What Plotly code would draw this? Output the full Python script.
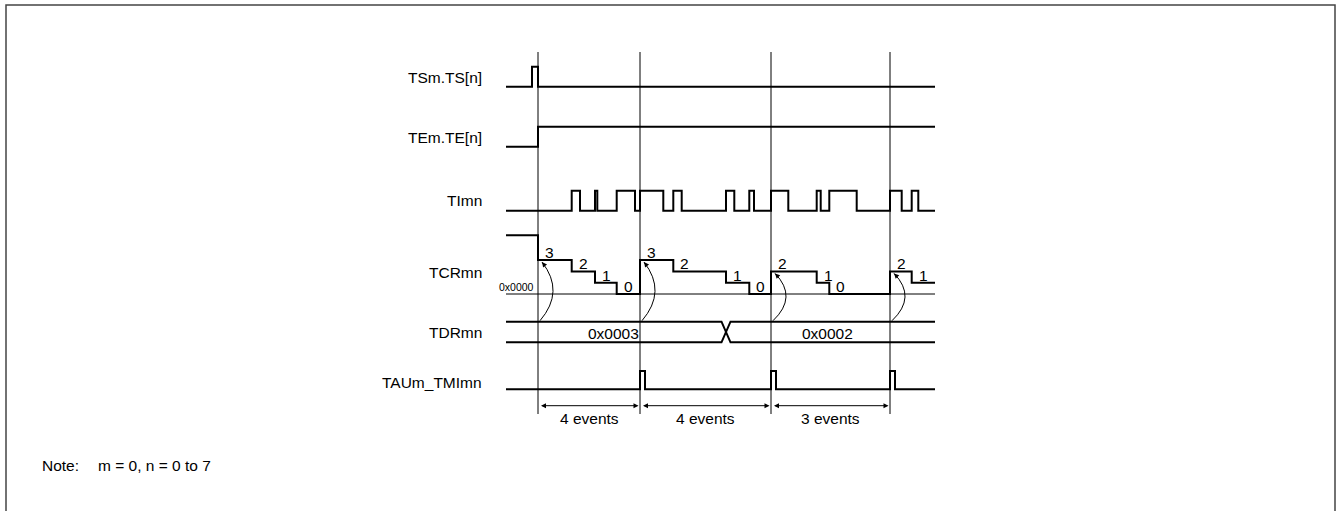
import plotly.graph_objects as go

# ---------------- data (time axis in diagram units) ----------------
T_START, T_END = 506, 935
signal_names = ["TSm.TS[n]", "TEm.TE[n]", "TImn", "TCRmn", "TDRmn", "TAUm_TMImn"]
ts_pulse = [532, 538]
te_rise = 538
ti_rise = [571.7, 595, 616.7, 640, 673.3, 726, 749.3, 771, 816.7, 829.3, 890, 911.7]
ti_fall = [580, 597.3, 635, 663.3, 681.7, 734.3, 754, 788.3, 820.7, 856.7, 901.7, 918.3]
tcr_times = [506, 538, 571.7, 595, 616.7, 640, 673.3, 726, 749.3, 771, 816.7, 829.3, 890, 911.7]
tcr_values = [5.2, 3, 2, 1, 0, 3, 2, 1, 0, 2, 1, 0, 2, 1]
tcr_labels = ["", "3", "2", "1", "0", "3", "2", "1", "0", "2", "1", "0", "2", "1"]
reload_times = [538, 640, 771, 890]
tdr_change = 726
tdr_values = ["0x0003", "0x0002"]
tmi_pulses = [640, 771, 890]
event_counts = ["4 events", "4 events", "3 events"]
note_label = "Note:"
note_text = "m = 0, n = 0 to 7"

# ---------------- layout constants ----------------
FONT = "Liberation Sans"
FS = 15.5
LW = 2
row_low = [86.7, 146.7, 210.7, 294, 342.3, 389.3]
row_label_y = [77, 137, 200, 272, 332, 382]
AMP = 20
TAU_AMP = 18.3
CNT_STEP = 11.3
BUS_H = 20.6
X_HALF = 4.5
DIM_Y = 405.7

fig = go.Figure()

def add_line(x, y, width=LW, shape="linear", color="black"):
    fig.add_trace(go.Scatter(x=x, y=y, mode="lines", line=dict(color=color, width=width, shape=shape),
                             hoverinfo="skip", showlegend=False))

# TS pulse
lo, hi = row_low[0], row_low[0] - AMP
add_line([T_START, ts_pulse[0], ts_pulse[1], T_END], [lo, hi, lo, lo], shape="hv")
# TE rise
lo, hi = row_low[1], row_low[1] - AMP
add_line([T_START, te_rise, T_END], [lo, hi, hi], shape="hv")
# TI waveform
lo, hi = row_low[2], row_low[2] - AMP
xs, ys = [T_START], [lo]
for r, f in zip(ti_rise, ti_fall):
    xs += [r, f]
    ys += [hi, lo]
xs.append(T_END); ys.append(lo)
add_line(xs, ys, shape="hv")
# TCR counter
zero = row_low[3]
add_line([T_START, T_END], [zero, zero], width=1)
cx = tcr_times + [T_END]
cy = [zero - CNT_STEP * v for v in tcr_values] + [zero - CNT_STEP * tcr_values[-1]]
add_line(cx, cy, shape="hv")
for t, v, lab in zip(tcr_times, tcr_values, tcr_labels):
    if lab:
        fig.add_annotation(x=t + 5, y=zero - CNT_STEP * v - 7.5, text=lab, showarrow=False,
                           xanchor="left", yanchor="middle", font=dict(family=FONT, size=FS, color="black"))
fig.add_annotation(x=536, y=287, text="0x0000", showarrow=False, xanchor="right", yanchor="middle",
                   font=dict(family=FONT, size=10.5, color="black"))
# TDR bus
bot, top = row_low[4], row_low[4] - BUS_H
add_line([T_START, tdr_change - X_HALF, tdr_change + X_HALF, T_END], [top, top, bot, bot])
add_line([T_START, tdr_change - X_HALF, tdr_change + X_HALF, T_END], [bot, bot, top, top])
seg_bounds = [T_START, tdr_change, T_END]
for i, val in enumerate(tdr_values):
    fig.add_annotation(x=(seg_bounds[i] + seg_bounds[i + 1]) / 2 - 3, y=(top + bot) / 2 + 1, text=val,
                       showarrow=False, xanchor="center", yanchor="middle",
                       font=dict(family=FONT, size=FS, color="black"))
# TAU interrupt pulses
lo, hi = row_low[5], row_low[5] - TAU_AMP
xs, ys = [T_START], [lo]
for p in tmi_pulses:
    xs += [p, p + 5]
    ys += [hi, lo]
xs.append(T_END); ys.append(lo)
add_line(xs, ys, shape="hv")

# vertical reference lines
for t in reload_times:
    fig.add_shape(type="line", x0=t, x1=t, y0=52, y1=414, line=dict(color="black", width=1))

# reload arcs TDR -> TCR
for t in reload_times:
    v = tcr_values[tcr_times.index(t)]
    y1 = zero - CNT_STEP * v + 2
    y0 = top - 1
    x0, x1 = t + 2, t + 4
    cxp, cyp = t + 27, (y0 + y1) / 2
    fig.add_shape(type="path", path=f"M {x0},{y0} Q {cxp},{cyp} {x1},{y1}",
                  line=dict(color="black", width=1))
    dx, dy = x1 - cxp, y1 - cyp
    n = (dx * dx + dy * dy) ** 0.5
    fig.add_annotation(x=x1, y=y1, ax=x1 - dx / n * 6, ay=y1 - dy / n * 6, axref="x", ayref="y",
                       xref="x", yref="y", text="", showarrow=True, arrowhead=2, arrowsize=1,
                       arrowwidth=1, arrowcolor="black", standoff=0)

# dimension arrows
for i, lab in enumerate(event_counts):
    a, b = reload_times[i], reload_times[i + 1]
    fig.add_annotation(x=b - 1.5, y=DIM_Y, ax=a + 1.5, ay=DIM_Y, axref="x", ayref="y", xref="x", yref="y",
                       text="", showarrow=True, arrowhead=2, arrowside="end+start", arrowsize=1,
                       arrowwidth=1, arrowcolor="black", standoff=0, startstandoff=0)
    fig.add_annotation(x=(a + b) / 2, y=418, text=lab, showarrow=False, xanchor="center", yanchor="middle",
                       font=dict(family=FONT, size=FS, color="black"))

# signal names
for name, y in zip(signal_names, row_label_y):
    fig.add_annotation(x=484, y=y, text=name, showarrow=False, xanchor="right", yanchor="middle",
                       font=dict(family=FONT, size=FS, color="black"))

# note
fig.add_annotation(x=40, y=465, text=note_label, showarrow=False, xanchor="left", yanchor="middle",
                   font=dict(family=FONT, size=FS, color="black"))
fig.add_annotation(x=96, y=465, text=note_text, showarrow=False, xanchor="left", yanchor="middle",
                   font=dict(family=FONT, size=FS, color="black"))

# frame
fig.add_shape(type="rect", x0=6, x1=1335, y0=5, y1=530, line=dict(color="#444444", width=1.5))

fig.update_layout(width=1341, height=511, margin=dict(l=0, r=0, t=0, b=0),
                  plot_bgcolor="white", paper_bgcolor="white",
                  xaxis=dict(range=[0, 1341], visible=False, fixedrange=True),
                  yaxis=dict(range=[511, 0], visible=False, fixedrange=True),
                  hovermode=False)
fig.write_html("out.html", config={"displayModeBar": False},
               post_script="document.body.style.margin='0';document.body.style.overflow='hidden';")
